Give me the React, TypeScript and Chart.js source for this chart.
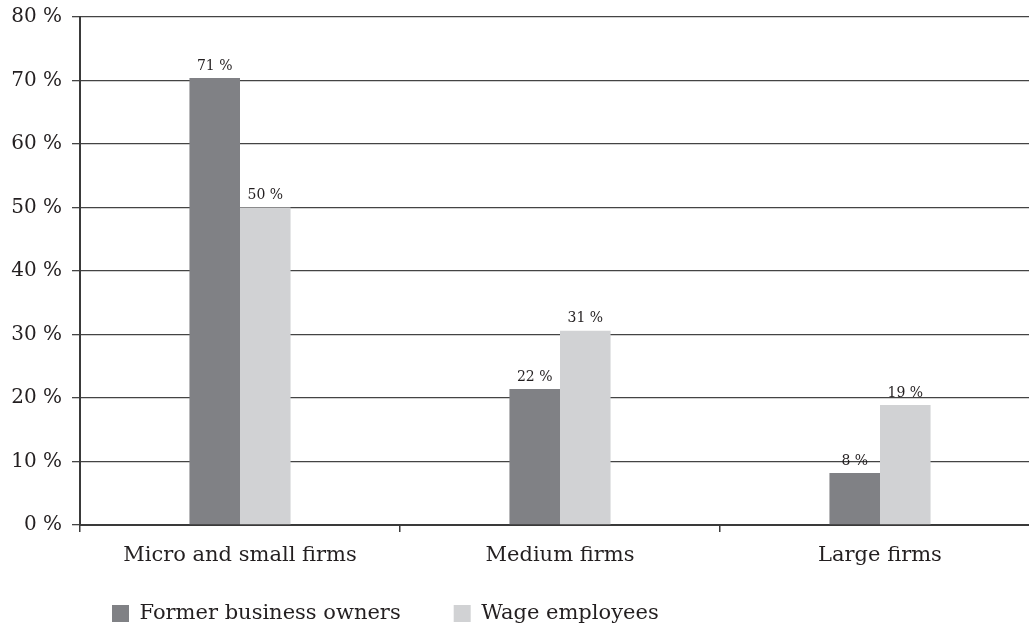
import React, { useEffect, useRef } from "react";
import { Chart, registerables } from "chart.js";

Chart.register(...registerables);

const categories: string[] = ["Micro and small firms", "Medium firms", "Large firms"];
const seriesNames: string[] = ["Former business owners", "Wage employees"];
const formerOwners: number[] = [70.4, 21.4, 8.2];
const wageEmployees: number[] = [50.0, 30.6, 18.9];
const formerOwnersLabels: string[] = ["71 %", "22 %", "8 %"];
const wageEmployeesLabels: string[] = ["50 %", "31 %", "19 %"];
const yTicks: number[] = [0, 10, 20, 30, 40, 50, 60, 70, 80];

const TEXT = "#231f20";
const FONT = "'DejaVu Serif', serif";
const LEGEND_PAD = 53;

export default function App() {
  const ref = useRef<HTMLCanvasElement | null>(null);

  useEffect(() => {
    if (!ref.current) return;
    const valueLabels = [formerOwnersLabels, wageEmployeesLabels];

    const labelPlugin = {
      id: "valueLabels",
      afterDatasetsDraw(chart: any) {
        const ctx = chart.ctx;
        ctx.save();
        ctx.font = `14px ${FONT}`;
        ctx.fillStyle = TEXT;
        ctx.textAlign = "center";
        ctx.textBaseline = "bottom";
        chart.data.datasets.forEach((_ds: any, di: number) => {
          const meta = chart.getDatasetMeta(di);
          meta.data.forEach((bar: any, i: number) => {
            ctx.fillText(valueLabels[di][i], bar.x, bar.y - 5);
          });
        });
        ctx.restore();
      },
    };

    const legendShift = {
      id: "legendShift",
      afterLayout(chart: any) {
        const lg = chart.legend;
        if (!lg) return;
        const left = chart.chartArea.left - 21;
        const top = 603 - LEGEND_PAD;
        lg.left = left;
        lg.right = chart.width;
        lg.top = top;
        lg.bottom = chart.height;
        lg.width = lg.right - lg.left;
        lg.height = lg.bottom - lg.top;
      },
    };

    const chart = new Chart(ref.current, {
      type: "bar",
      data: {
        labels: categories,
        datasets: [
          {
            label: seriesNames[0],
            data: formerOwners,
            backgroundColor: "#808185",
            borderWidth: 0,
            categoryPercentage: 0.316,
            barPercentage: 1.0,
          },
          {
            label: seriesNames[1],
            data: wageEmployees,
            backgroundColor: "#d1d2d4",
            borderWidth: 0,
            categoryPercentage: 0.316,
            barPercentage: 1.0,
          },
        ],
      },
      options: {
        animation: false,
        responsive: true,
        maintainAspectRatio: false,
        layout: { padding: { top: 17, left: 0, right: 0, bottom: 0 } },
        plugins: {
          tooltip: { enabled: false },
          legend: {
            position: "bottom",
            align: "start",
            fullSize: false,
            maxHeight: 42,
            labels: {
              boxWidth: 17,
              boxHeight: 17,
              padding: LEGEND_PAD,
              color: TEXT,
              font: { family: FONT, size: 21 },
            },
          },
        },
        scales: {
          x: {
            grid: {
              drawOnChartArea: false,
              drawTicks: true,
              tickLength: 7,
              color: "#3a3a3a",
              lineWidth: 1.5,
            },
            border: { display: true, color: "#3a3a3a", width: 2 },
            ticks: {
              color: TEXT,
              font: { family: FONT, size: 21 },
              padding: 11,
            },
            afterFit(scale: any) {
              scale.height = 62;
            },
          },
          y: {
            min: 0,
            max: 80,
            afterBuildTicks(scale: any) {
              scale.ticks = yTicks.map((v) => ({ value: v }));
            },
            grid: {
              color: "#444444",
              lineWidth: 1.3,
              tickLength: 8,
            },
            border: { display: true, color: "#3a3a3a", width: 2 },
            ticks: {
              color: TEXT,
              font: { family: FONT, size: 20 },
              padding: 10,
              callback: (v: any) => `${v} %`,
            },
            afterFit(scale: any) {
              scale.width = 80;
              scale.paddingTop = 0;
              scale.paddingBottom = 0;
            },
          },
        },
      },
      plugins: [labelPlugin, legendShift],
    });
    return () => chart.destroy();
  }, []);

  return (
    <div
      style={{
        position: "fixed",
        left: 0,
        top: 0,
        width: 1029,
        height: 629,
        overflow: "hidden",
        background: "#fff",
      }}
    >
      <div style={{ position: "relative", width: 1040, height: 629 }}>
        <canvas ref={ref} />
      </div>
    </div>
  );
}
